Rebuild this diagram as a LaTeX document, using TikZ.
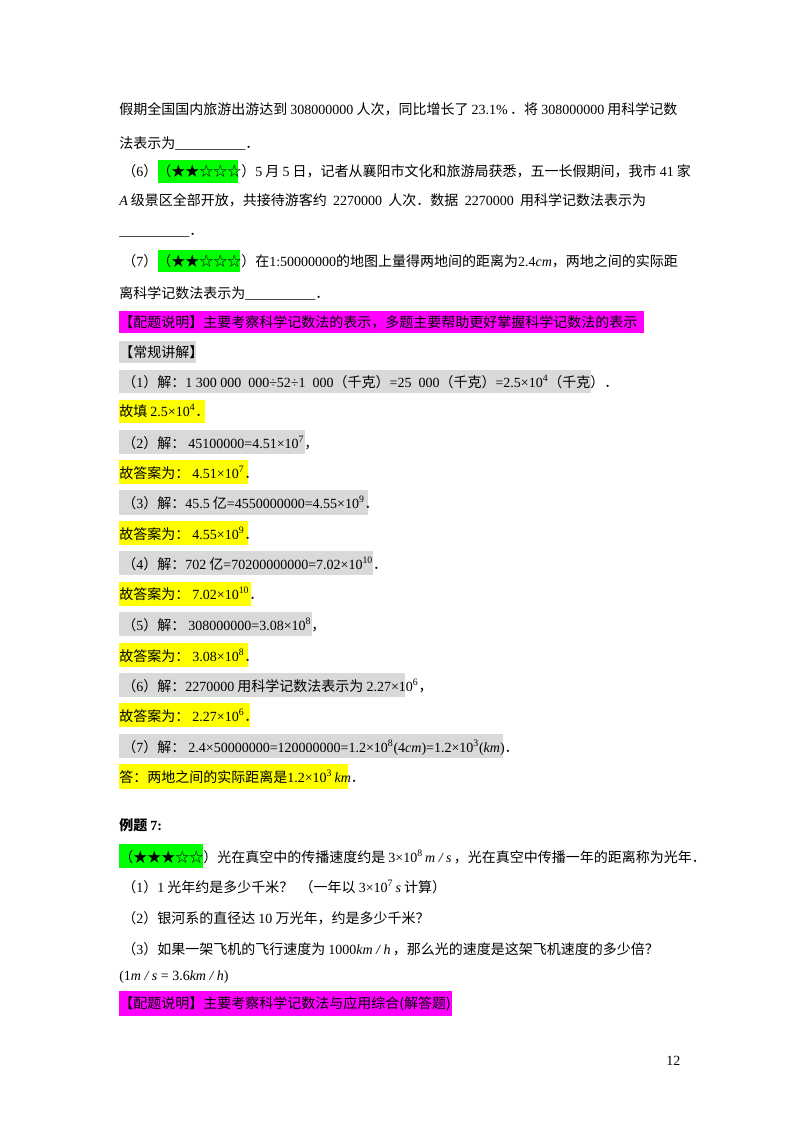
\documentclass[tikz,border=0pt]{standalone}
\usepackage{fontspec}
\setmainfont{Noto Sans CJK SC}
\newfontfamily\tm{Liberation Serif}
\newcommand\n[1]{{\tm #1}}
\newcommand\nit[1]{{\tm\itshape #1}}
\newcommand\blank{\n{\_\_\_\_\_\_\_\_\_\_}}
\definecolor{hlg}{HTML}{00FF00}
\definecolor{hlm}{HTML}{FF00FF}
\definecolor{hly}{HTML}{FFFF00}
\definecolor{hlk}{HTML}{D9D9D9}
\begin{document}
\begin{tikzpicture}[x=0.75pt,y=-0.75pt,
  t/.style={anchor=base west,inner sep=0,font=\fontsize{10.5}{12}\selectfont}]
\useasboundingbox[fill=white] (0,0) rectangle (800,1132);
% highlight boxes
\fill[hlg] (158,160) rectangle (238,183);
\fill[hlg] (158,250) rectangle (240,272);
\fill[hlm] (119,311) rectangle (644,333);
\fill[hlk] (119,341) rectangle (196,363);
\fill[hlk] (119,370) rectangle (591,393);
\fill[hly] (119,400) rectangle (205,423);
\fill[hlk] (119,430) rectangle (305,454);
\fill[hly] (119,460) rectangle (248,484);
\fill[hlk] (119,490) rectangle (368,515);
\fill[hly] (119,521) rectangle (248,545);
\fill[hlk] (119,551) rectangle (373,575);
\fill[hly] (119,582) rectangle (251,606);
\fill[hlk] (119,612) rectangle (312,636);
\fill[hly] (119,643) rectangle (248,667);
\fill[hlk] (119,673) rectangle (405,697);
\fill[hly] (119,703) rectangle (250,727);
\fill[hlk] (119,734) rectangle (503,758);
\fill[hly] (119,764) rectangle (348,789);
\fill[hlg] (119,844) rectangle (203,868);
\fill[hlm] (119,991) rectangle (452,1016);
% text
\node[t] (l1) at (119,114) {假期全国国内旅游出游达到 \n{308000000} 人次，同比增长了 \n{23.1\%}\,．将 \n{308000000} 用科学记数};
\node[t] (l2) at (119,148) {法表示为\blank．};
\node[t] (l3) at (122,176) {（\n{6}）（★★☆☆☆）\n{5} 月 \n{5} 日，记者从襄阳市文化和旅游局获悉，五一长假期间，我市 \n{41} 家};
\node[t] (l4) at (119,205) {\nit{A} 级景区全部开放，共接待游客约\ \ \n{2270000}\ \ 人次．数据\ \ \n{2270000}\ \ 用科学记数法表示为};
\node[t] (l5) at (119,235) {\blank．};
\node[t] (l6) at (122,266) {（\n{7}）（★★☆☆☆）在\n{1:50000000}的地图上量得两地间的距离为\n{2.4}\nit{cm}，两地之间的实际距};
\node[t] (l7) at (119,298) {离科学记数法表示为\blank．};
\node[t] (l8) at (119,327) {【配题说明】主要考察科学记数法的表示，多题主要帮助更好掌握科学记数法的表示};
\node[t] (l9) at (119,357) {【常规讲解】};
\node[t] (a1) at (122,387) {（\n{1}）解：\n{1 300 000\ \ 000÷52÷1\ \ 000}（千克）\n{=25\ \ 000}（千克）\n{=2.5×10\textsuperscript{4}}（千克）．};
\node[t] (b1) at (119,416) {故填 \n{2.5×10\textsuperscript{4}}．};
\node[t] (a2) at (122,448) {（\n{2}）解：\ \n{45100000=4.51×10\textsuperscript{7}}，};
\node[t] (b2) at (119,478) {故答案为：\ \n{4.51×10\textsuperscript{7}}．};
\node[t] (a3) at (122,508) {（\n{3}）解：\n{45.5} 亿\n{=4550000000=4.55×10\textsuperscript{9}}．};
\node[t] (b3) at (119,539) {故答案为：\ \n{4.55×10\textsuperscript{9}}．};
\node[t] (a4) at (122,569) {（\n{4}）解：\n{702} 亿\n{=70200000000=7.02×10\textsuperscript{10}}．};
\node[t] (b4) at (119,599) {故答案为：\ \n{7.02×10\textsuperscript{10}}．};
\node[t] (a5) at (122,630) {（\n{5}）解：\ \n{308000000=3.08×10\textsuperscript{8}}，};
\node[t] (b5) at (119,661) {故答案为：\ \n{3.08×10\textsuperscript{8}}．};
\node[t] (a6) at (122,691) {（\n{6}）解：\n{2270000} 用科学记数法表示为 \n{2.27×10\textsuperscript{6}}，};
\node[t] (b6) at (119,721) {故答案为：\ \n{2.27×10\textsuperscript{6}}．};
\node[t] (a7) at (122,752) {（\n{7}）解：\ \n{2.4×50000000=120000000=1.2×10\textsuperscript{8}(4\textit{cm})=1.2×10\textsuperscript{3}(\textit{km})}．};
\node[t] (b7) at (119,782) {答：两地之间的实际距离是\n{1.2×10\textsuperscript{3}\,\textit{km}}．};
\node[t,font=\fontsize{10.5}{12}\selectfont\bfseries] (ex) at (119,830) {例题 \n{\bfseries 7:}};
\node[t] (e0) at (119,862) {（★★★☆☆）光在真空中的传播速度约是 \n{3×10\textsuperscript{8}\,\textit{m / s}}\,，光在真空中传播一年的距离称为光年．};
\node[t] (e1) at (122,892) {（\n{1}）\n{1} 光年约是多少千米？\ \ （一年以 \n{3×10\textsuperscript{7}\,\textit{s}} 计算）};
\node[t] (e2) at (122,923) {（\n{2}）银河系的直径达 \n{10} 万光年，约是多少千米？};
\node[t] (e3) at (122,954) {（\n{3}）如果一架飞机的飞行速度为 \n{1000\textit{km / h}}\,，那么光的速度是这架飞机速度的多少倍？};
\node[t] (e4) at (119,980) {\n{(1\textit{m / s} = 3.6\textit{km / h})}};
\node[t] (e5) at (119,1008) {【配题说明】主要考察科学记数法与应用综合(解答题)};
\node[t] (pg) at (666,1065) {\n{12}};
\end{tikzpicture}
\end{document}
